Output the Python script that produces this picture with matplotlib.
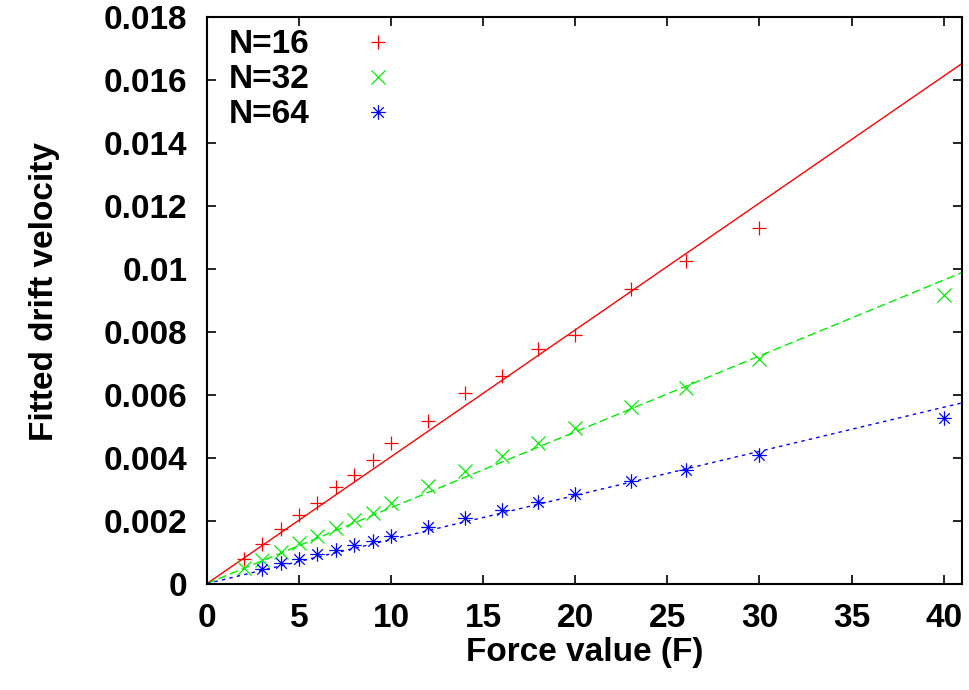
import numpy as np
import matplotlib
matplotlib.use("Agg")
import matplotlib.pyplot as plt
from matplotlib.path import Path
from matplotlib.ticker import FuncFormatter, MultipleLocator

# --- données ---
force_16 = [2, 3, 4, 5, 6, 7, 8, 9, 10, 12, 14, 16, 18, 20, 23, 26, 30]
vel_16 = [0.00078, 0.00126, 0.00172, 0.00217, 0.00257, 0.00307, 0.00345, 0.00392,
          0.00446, 0.00516, 0.00606, 0.00660, 0.00746, 0.00789, 0.00935, 0.01025, 0.01130]

force_32 = [2, 3, 4, 5, 6, 7, 8, 9, 10, 12, 14, 16, 18, 20, 23, 26, 30, 40]
vel_32 = [0.00049, 0.00075, 0.00099, 0.00128, 0.00152, 0.00176, 0.00202, 0.00225,
          0.00257, 0.00309, 0.00357, 0.00404, 0.00447, 0.00495, 0.00562, 0.00622,
          0.00712, 0.00916]

force_64 = [3, 4, 5, 6, 7, 8, 9, 10, 12, 14, 16, 18, 20, 23, 26, 30, 40]
vel_64 = [0.00047, 0.00065, 0.00079, 0.00095, 0.00107, 0.00123, 0.00136, 0.00152,
          0.00180, 0.00209, 0.00234, 0.00260, 0.00286, 0.00325, 0.00362, 0.00407, 0.00527]

# pentes des ajustements lineaires v = a * F
fit_slopes = [0.000403, 0.000241, 0.00014]
labels = ["N=16", "N=32", "N=64"]

plt.rcParams['font.family'] = ['Liberation Sans', 'DejaVu Sans']
plt.rcParams['font.weight'] = 'bold'

# marqueur asterisque facon gnuplot (+ et x superposes)
d = 0.72
star = Path([(-1, 0), (1, 0), (0, -1), (0, 1), (-d, -d), (d, d), (-d, d), (d, -d)],
            [Path.MOVETO, Path.LINETO] * 4)

colors = ['#ff0000', '#00ee00', '#0000ff']
markers = ['+', 'x', star]
styles = ['-', (0, (6, 3)), (0, (2.5, 3))]
fs = 24

fig = plt.figure(figsize=(9.69, 6.90), dpi=100)
ax = fig.add_axes([0.2136, 0.1543, 0.7792, 0.8211])

series = [(force_16, vel_16), (force_32, vel_32), (force_64, vel_64)]
x_fit = np.array([0, 41])
for (f, v), a, c, m, ls, lab in zip(series, fit_slopes, colors, markers, styles, labels):
    ax.plot(f, v, linestyle='none', marker=m, color=c, markersize=10.5,
            markeredgewidth=0.9, label=lab)
    ax.plot(x_fit, a * x_fit, color=c, linestyle=ls, linewidth=1.0)

ax.set_xlim(0, 41)
ax.set_ylim(0, 0.018)
ax.xaxis.set_major_locator(MultipleLocator(5))
ax.yaxis.set_major_locator(MultipleLocator(0.002))
ax.yaxis.set_major_formatter(FuncFormatter(lambda y, p: "%g" % round(y, 6)))

ax.tick_params(direction='in', length=6.5, width=1.2, labelsize=fs,
               top=True, right=True, pad=14)
for sp in ax.spines.values():
    sp.set_linewidth(1.5)

ax.set_xlabel("Force value (F)", fontsize=fs, fontweight='bold')
ax.set_ylabel("Fitted drift velocity", fontsize=fs, fontweight='bold')
ax.xaxis.set_label_coords(0.5, -0.094)
ax.yaxis.set_label_coords(-0.195, 0.515)

ax.legend(loc='upper left', bbox_to_anchor=(0.029, 0.978), frameon=False,
          markerfirst=False, fontsize=fs, borderpad=0, handlelength=1.0,
          handletextpad=1.55, labelspacing=0.12, borderaxespad=0)

fig.savefig("out.png", dpi=100)
